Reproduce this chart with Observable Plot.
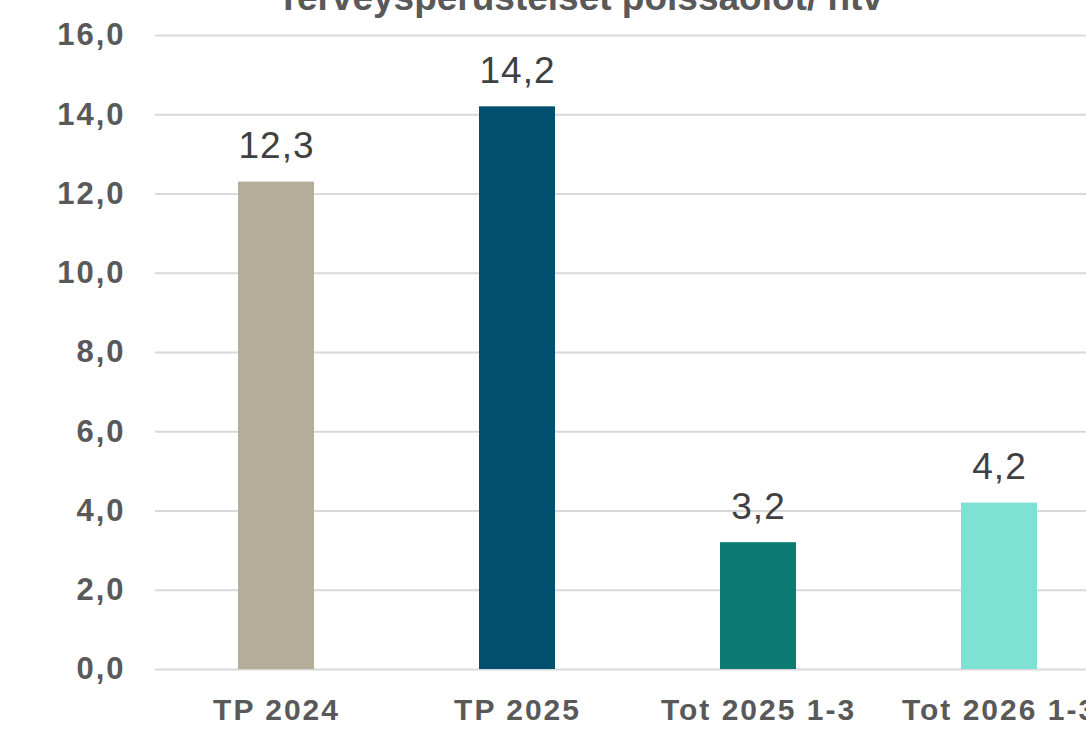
<!DOCTYPE html>
<html><head><meta charset="utf-8">
<script src="https://cdn.jsdelivr.net/npm/d3@7"></script>
<script src="https://cdn.jsdelivr.net/npm/@observablehq/plot@0.6"></script>
<style>
html,body{margin:0;padding:0;background:#fff;overflow:hidden;width:1086px;height:729px;}
#wrap{position:relative;width:1086px;height:729px;overflow:hidden;}
#title{position:absolute;left:0;width:1160px;top:-21px;line-height:37px;text-align:center;font-family:"Liberation Sans",Arial,sans-serif;font-weight:bold;font-size:37px;color:#595959;white-space:nowrap;}
#chart{position:absolute;left:0;top:0;}
#chart svg{max-width:none !important;}
#chart g[aria-label="x-axis tick label"] text{letter-spacing:2px;}
#chart g[aria-label="y-axis tick label"] text{letter-spacing:2px;}
#chart g[aria-label="text"] text{letter-spacing:1px;}
</style></head>
<body><div id="wrap"><div id="title">Terveysperusteiset poissaolot/ htv</div><div id="chart"></div></div>
<script>
const categories = ["TP 2024", "TP 2025", "Tot 2025 1-3", "Tot 2026 1-3"];
const values = [12.3, 14.2, 3.2, 4.2];
const colors = ["#b3ad9a", "#004f6e", "#0a7a73", "#7fe0d4"];
const yTicks = [0, 2, 4, 6, 8, 10, 12, 14, 16];

const data = categories.map((c, i) => ({cat: c, value: values[i], color: colors[i]}));
const fmt = v => d3.format(".1f")(v).replace(".", ",");

const chart = Plot.plot({
  width: 1120,
  height: 729,
  marginLeft: 155,
  marginRight: 0,
  marginTop: 35,
  marginBottom: 60,
  style: {fontFamily: "Liberation Sans, Arial, sans-serif", background: "transparent", maxWidth: "none"},
  x: {domain: categories, paddingInner: 0.685, paddingOuter: 0.3425, label: null},
  y: {domain: [0, 16], label: null},
  marks: [
    Plot.gridY(yTicks, {stroke: "#d9d9d9", strokeOpacity: 1, strokeWidth: 2}),
    Plot.barY(data, {x: "cat", y: "value", fill: "color"}),
    Plot.text(data, {x: "cat", y: "value", text: d => fmt(d.value), dy: -36, fontSize: 37, fill: "#404040", fontFamily: "Liberation Sans, Arial, sans-serif"}),
    Plot.axisY(yTicks, {tickSize: 0, tickPadding: 30, tickFormat: fmt, fontSize: 31, fill: "#595959", fontWeight: "bold", label: null}),
    Plot.axisX({tickSize: 0, tickPadding: 29, fontSize: 30, fill: "#595959", fontWeight: "bold", label: null})
  ]
});
chart.style.maxWidth = "none";
document.getElementById("chart").appendChild(chart);
</script></body></html>
